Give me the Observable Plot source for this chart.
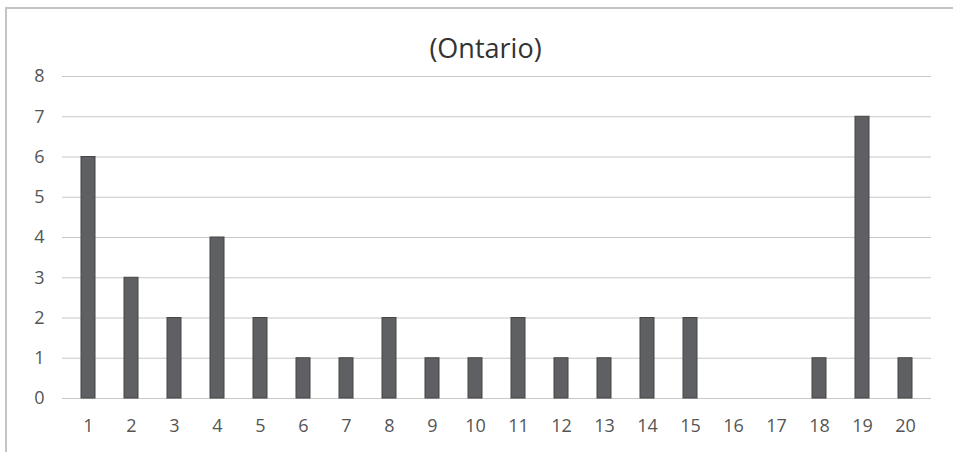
<!DOCTYPE html>
<html>
<head>
<meta charset="utf-8">
<script src="https://cdn.jsdelivr.net/npm/d3@7"></script>
<script src="https://cdn.jsdelivr.net/npm/@observablehq/plot@0.6"></script>
<style>
  html, body { margin: 0; padding: 0; background: #fff; }
  #wrap { position: relative; width: 953px; height: 452px; overflow: hidden; font-family: "Open Sans", sans-serif; }
  #frame { position: absolute; left: 5px; top: 7px; right: -10px; bottom: -10px; border-top: 2px solid #c4c4c4; border-left: 2px solid #c4c4c4; pointer-events: none; }
  #title { height: 60px; line-height: 60px; padding-top: 18px; box-sizing: border-box; text-align: center; font-size: 27px; color: #333; padding-left: 18px; }
  #chart svg text { font-size: 18px !important; font-family: "Open Sans", sans-serif; }
</style>
</head>
<body>
<div id="wrap">
  <div id="frame"></div>
  <div id="title">(Ontario)</div>
  <div id="chart"></div>
</div>
<script>
const categories = ["1","2","3","4","5","6","7","8","9","10","11","12","13","14","15","16","17","18","19","20"];
const values = [6,3,2,4,2,1,1,2,1,1,2,1,1,2,2,0,0,1,7,1];
const yTicks = [0,1,2,3,4,5,6,7,8];

const data = categories.map((c, i) => ({category: c, value: values[i]}));

const chart = Plot.plot({
  width: 953,
  height: 392,
  marginLeft: 62,
  marginRight: 22,
  marginTop: 16,
  marginBottom: 54,
  style: {fontFamily: "Open Sans, sans-serif", fontSize: "18px", color: "#555", background: "transparent"},
  x: {domain: categories, paddingInner: 0.68, paddingOuter: 0.34, label: null},
  y: {domain: [0, 8], label: null},
  marks: [
    Plot.gridY(yTicks, {stroke: "#c8c8c8", strokeOpacity: 1, strokeWidth: 1.2}),
    Plot.barY(data, {x: "category", y: "value", fill: "#5f6063", stroke: "#454545", strokeWidth: 1}),
    Plot.axisY(yTicks, {tickSize: 0, tickPadding: 18, fill: "#555", fontSize: 18}),
    Plot.axisX({tickSize: 0, tickPadding: 21, fill: "#555", fontSize: 18})
  ]
});
document.getElementById("chart").appendChild(chart);
</script>
</body>
</html>
